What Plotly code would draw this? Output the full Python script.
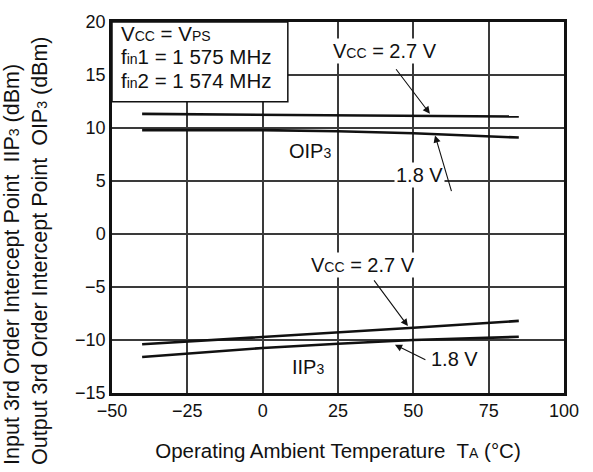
import plotly.graph_objects as go

# Operating temperature sweep (°C)
temp = [-40, -25, 0, 25, 50, 85]

# Output third-order intercept point (dBm)
oip3_27v = [11.33, 11.3, 11.25, 11.2, 11.15, 11.08]
oip3_18v = [9.8, 9.8, 9.8, 9.7, 9.5, 9.1]

# Input third-order intercept point (dBm)
iip3_27v = [-10.4, -10.15, -9.75, -9.3, -8.85, -8.2]
iip3_18v = [-11.6, -11.3, -10.75, -10.35, -10.0, -9.7]

x_ticks = [-50, -25, 0, 25, 50, 75, 100]
y_ticks = [-15, -10, -5, 0, 5, 10, 15, 20]

FONT = "Liberation Sans, Arial, Helvetica, sans-serif"
INK = "#111111"
GRID = "#3a3a3a"
SMALL = '<span style="font-size:14px">{}</span>'

fig = go.Figure()
for series in (oip3_27v, oip3_18v, iip3_27v, iip3_18v):
    fig.add_trace(go.Scatter(x=temp, y=series, mode="lines",
                             line=dict(color=INK, width=2.6),
                             showlegend=False, hoverinfo="skip"))

axis_common = dict(showgrid=True, gridcolor=GRID, gridwidth=2,
                   showline=True, linecolor=INK, linewidth=2.5,
                   mirror=True, zeroline=False, ticks="",
                   tickfont=dict(family=FONT, size=18, color=INK))

fig.update_xaxes(range=[x_ticks[0], x_ticks[-1]], tickvals=x_ticks, **axis_common,
                 title=dict(text="Operating Ambient Temperature  T" + SMALL.format("A") + " (°C)",
                            font=dict(family=FONT, size=20.5, color=INK),
                            standoff=24))
fig.update_yaxes(range=[y_ticks[0], y_ticks[-1]], tickvals=y_ticks, **axis_common)

# Condition box in the upper-left corner
fig.add_shape(type="rect", xref="paper", yref="paper", x0=0, x1=0.389, y0=0.785, y1=1,
              line=dict(color=INK, width=1.5), fillcolor="white", layer="above")

box_lines = [
    ("V" + SMALL.format("CC") + " = V" + SMALL.format("PS"), 30),
    ("f" + SMALL.format("in") + "1 = 1 575 MHz", 53),
    ("f" + SMALL.format("in") + "2 = 1 574 MHz", 77),
]
for txt, py in box_lines:
    fig.add_annotation(xref="paper", yref="paper", x=(119 - 112) / 452, y=(394 - py) / 376,
                       xanchor="left", yanchor="middle", text=txt, showarrow=False,
                       font=dict(family=FONT, size=20.5, color=INK))

label_font = dict(family=FONT, size=20, color=INK)

def label(x, y, text):
    fig.add_annotation(x=x, y=y, text=text, showarrow=False, font=label_font,
                       xanchor="center", yanchor="middle", bgcolor="white")

def arrow(x0, y0, x1, y1):
    fig.add_annotation(x=x1, y=y1, ax=x0, ay=y0, axref="x", ayref="y",
                       text="", showarrow=True, arrowhead=2, arrowsize=1.3,
                       arrowwidth=1.1, arrowcolor=INK)

# OIP3 group
label(40.6, 17.3, "V" + SMALL.format("CC") + " = 2.7 V")
arrow(43.9, 15.68, 55.5, 11.35)
label(52.0, 5.6, "1.8 V")
arrow(62.8, 3.91, 57.2, 9.3)
fig.add_annotation(x=15.7, y=7.8, text="OIP" + SMALL.format("3"), showarrow=False, font=label_font)

# IIP3 group
label(33.3, -2.95, "V" + SMALL.format("CC") + " = 2.7 V")
arrow(36.6, -4.24, 48.2, -8.69)
label(63.5, -11.8, "1.8 V")
arrow(54.5, -11.94, 43.9, -10.45)
fig.add_annotation(x=15.1, y=-12.5, text="IIP" + SMALL.format("3"), showarrow=False, font=label_font)

# Two-line vertical axis title
fig.add_annotation(xref="paper", yref="paper", x=(26 - 112) / 452, y=(394 - 250) / 376,
                   xanchor="center", yanchor="middle", textangle=-90, align="left",
                   showarrow=False, font=dict(family=FONT, size=21.5, color=INK),
                   text="Input 3rd Order Intercept Point  IIP" + SMALL.format("3") + " (dBm)<br>"
                        "Output 3rd Order Intercept Point  OIP" + SMALL.format("3") + " (dBm)")

fig.update_layout(width=593, height=472, paper_bgcolor="white", plot_bgcolor="white",
                  margin=dict(l=112, r=29, t=17, b=78), showlegend=False)

fig.write_html("out.html")
